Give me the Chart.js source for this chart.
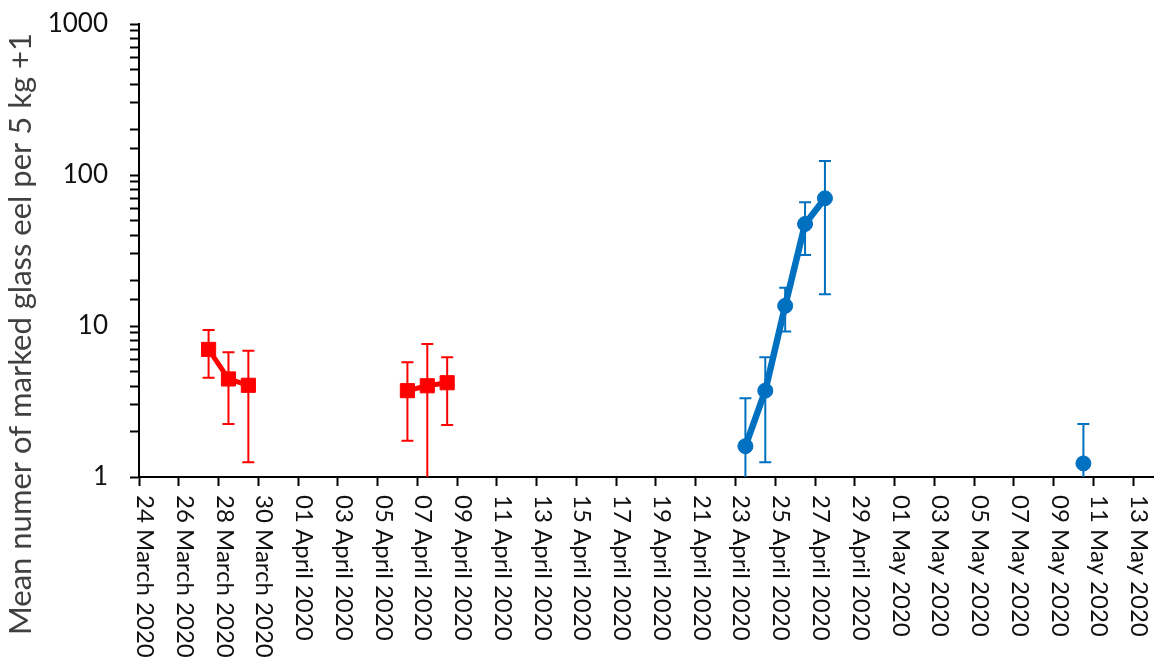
<!DOCTYPE html>
<html>
<head>
<meta charset="utf-8">
<script src="https://cdn.jsdelivr.net/npm/chart.js@4.4.0/dist/chart.umd.min.js"></script>
<style>
  html, body { margin: 0; padding: 0; background: #fff; }
</style>
</head>
<body>
<canvas id="eelChart" width="1164" height="661"></canvas>
<script>
// first day on the x axis (day 0)
const startDate = '2020-03-24';

// one label every 2 days
const tickLabels = [
    '24 March 2020', '26 March 2020', '28 March 2020', '30 March 2020',
    '01 April 2020', '03 April 2020', '05 April 2020', '07 April 2020', '09 April 2020',
    '11 April 2020', '13 April 2020', '15 April 2020', '17 April 2020', '19 April 2020',
    '21 April 2020', '23 April 2020', '25 April 2020', '27 April 2020', '29 April 2020',
    '01 May 2020', '03 May 2020', '05 May 2020', '07 May 2020', '09 May 2020',
    '11 May 2020', '13 May 2020'
];

// red series (squares)
const redDates = ['2020-03-27', '2020-03-28', '2020-03-29', '2020-04-06', '2020-04-07', '2020-04-08'];
const redMean = [7.0, 4.46, 4.05, 3.73, 4.02, 4.21];
const redLow = [4.55, 2.24, 1.25, 1.74, 1, 2.21];
const redHigh = [9.4, 6.7, 6.86, 5.75, 7.6, 6.2];

// blue series (circles)
const blueDates = ['2020-04-23', '2020-04-24', '2020-04-25', '2020-04-26', '2020-04-27', '2020-05-10'];
const blueMean = [1.6, 3.73, 13.6, 47.4, 70.1, 1.23];
const blueLow = [1, 1.25, 9.2, 29.5, 16.2, 1];
const blueHigh = [3.32, 6.2, 17.9, 65.9, 124, 2.24];

const yTitle = 'Mean numer of marked glass eel per 5 kg +1';

// points sit in the middle of their day
function dayOf(d) {
    return (Date.parse(d) - Date.parse(startDate)) / 86400000 + 0.5;
}
function toPoints(dates, vals) {
    return dates.map((d, i) => ({ x: dayOf(d), y: vals[i] }));
}

// vertical error bars with caps
const errorBars = {
    id: 'errorBars',
    beforeDatasetsDraw(chart) {
        const { ctx, chartArea, scales } = chart;
        ctx.save();
        ctx.beginPath();
        ctx.rect(chartArea.left, chartArea.top, chartArea.right - chartArea.left, chartArea.bottom - chartArea.top);
        ctx.clip();
        chart.data.datasets.forEach(ds => {
            ctx.strokeStyle = ds.borderColor;
            ctx.lineWidth = 2;
            ds.data.forEach((p, i) => {
                const x = scales.x.getPixelForValue(p.x);
                const lo = ds.errLow[i], hi = ds.errHigh[i];
                const yLo = scales.y.getPixelForValue(lo);
                const yHi = scales.y.getPixelForValue(hi);
                ctx.beginPath();
                ctx.moveTo(x, yLo);
                ctx.lineTo(x, yHi);
                ctx.moveTo(x - 6, yHi);
                ctx.lineTo(x + 6, yHi);
                if (lo > 1) {
                    ctx.moveTo(x - 6, yLo);
                    ctx.lineTo(x + 6, yLo);
                }
                ctx.stroke();
            });
        });
        ctx.restore();
    }
};

// rotated date labels (reading downwards) and the y title
const axisText = {
    id: 'axisText',
    afterDraw(chart) {
        const { ctx, scales } = chart;
        const xs = scales.x;
        ctx.save();
        ctx.fillStyle = '#111';
        ctx.font = '24px Lato';
        ctx.textAlign = 'left';
        ctx.textBaseline = 'alphabetic';
        xs.ticks.forEach((t, i) => {
            const px = xs.getPixelForValue(t.value);
            ctx.save();
            ctx.translate(px - 2, 495);
            ctx.rotate(Math.PI / 2);
            ctx.fillText(tickLabels[i], 0, 0);
            ctx.restore();
        });
        ctx.fillStyle = '#404040';
        ctx.font = '31px Lato';
        ctx.textAlign = 'center';
        ctx.translate(31, 334);
        ctx.rotate(-Math.PI / 2);
        ctx.fillText(yTitle, 0, 0);
        ctx.restore();
    }
};

const ctx = document.getElementById('eelChart').getContext('2d');
const eelChart = new Chart(ctx, {
    type: 'line',
    data: {
        datasets: [{
            label: 'red',
            data: toPoints(redDates, redMean),
            borderColor: '#FF0000',
            backgroundColor: '#FF0000',
            borderWidth: 5,
            pointStyle: 'rect',
            pointRadius: 10,
            pointBorderWidth: 1,
            spanGaps: 1.5,
            errLow: redLow,
            errHigh: redHigh
        }, {
            label: 'blue',
            data: toPoints(blueDates, blueMean),
            borderColor: '#0070C0',
            backgroundColor: '#0070C0',
            borderWidth: 6.5,
            pointStyle: 'circle',
            pointRadius: 7.5,
            pointBorderWidth: 1,
            spanGaps: 1.5,
            errLow: blueLow,
            errHigh: blueHigh
        }]
    },
    options: {
        responsive: false,
        animation: false,
        layout: { padding: { top: 24, right: 7, left: 0, bottom: 0 } },
        plugins: {
            legend: { display: false },
            tooltip: { enabled: false }
        },
        scales: {
            x: {
                type: 'linear',
                min: 0,
                max: 51,
                ticks: { display: false },
                afterBuildTicks: s => { s.ticks = tickLabels.map((_, i) => ({ value: i * 2 })); },
                grid: { drawOnChartArea: false, tickLength: 9, tickWidth: 2, tickColor: '#000' },
                border: { color: '#000', width: 2 },
                afterFit: s => { s.height = 184; }
            },
            y: {
                type: 'logarithmic',
                min: 1,
                max: 1000,
                ticks: {
                    autoSkip: false,
                    padding: 22,
                    color: '#111',
                    font: { family: 'Lato', size: 26 },
                    callback: v => Number.isInteger(Math.log10(v)) ? String(v) : ''
                },
                grid: { drawOnChartArea: false, tickLength: 9, tickWidth: 2, tickColor: '#000' },
                border: { color: '#000', width: 2 },
                afterFit: s => {
                    s.width = 139;
                    s.paddingTop = 0;
                    s.paddingBottom = 0;
                }
            }
        }
    },
    plugins: [errorBars, axisText]
});
</script>
</body>
</html>
